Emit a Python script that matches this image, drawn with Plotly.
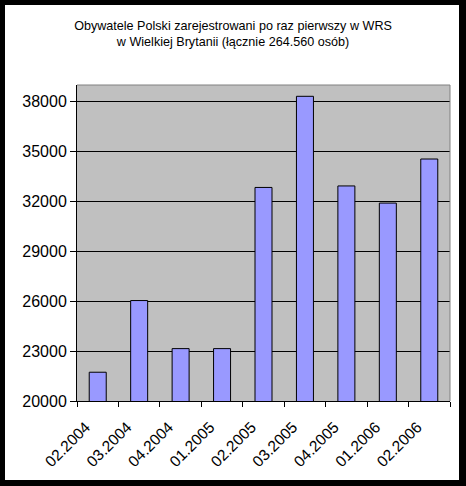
import plotly.graph_objects as go

# Polish citizens first registered in the WRS, UK
months = ['02.2004', '03.2004', '04.2004', '01.2005', '02.2005',
          '03.2005', '04.2005', '01.2006', '02.2006']
registered = [21730, 26040, 23150, 23150, 32840, 38320, 32930, 31900, 34550]
y_ticks = [20000, 23000, 26000, 29000, 32000, 35000, 38000]

FONT = 'Arial, Liberation Sans, sans-serif'

# plot area in pixels: left 77, right 450, top 85, bottom 401
W, H = 466, 486
L, R, T, B = 77, 450, 85, 401
pw, ph = R - L, B - T

def px(x):
    return (x - L) / pw

def py(y):
    return (B - y) / ph

def box(x0, x1, y0, y1, color):
    return dict(type='rect', xref='paper', yref='paper', layer='below',
                x0=px(x0), x1=px(x1), y0=py(y1), y1=py(y0),
                fillcolor=color, line=dict(width=0))

fig = go.Figure(go.Bar(
    x=months,
    y=registered,
    marker=dict(color='#9999FF', line=dict(color='black', width=1)),
))

fig.update_layout(
    width=W, height=H,
    margin=dict(l=L, r=W - R, t=T, b=H - B, pad=0),
    paper_bgcolor='black',
    plot_bgcolor='rgba(0,0,0,0)',
    bargap=0.59,
    showlegend=False,
    font=dict(family=FONT, color='black'),
    title=dict(
        text='Obywatele Polski zarejestrowani po raz pierwszy w WRS<br>'
             'w Wielkiej Brytanii (łącznie 264.560 osób)',
        font=dict(family=FONT, size=12.6, color='black'),
        x=0.5, xref='container', xanchor='center',
        y=1 - 30 / H, yref='container', yanchor='top',
    ),
    shapes=[
        # white chart area inside the black frame, grey plot area
        box(5, 459, 5, 480, 'white'),
        box(L, R, T, B, '#C0C0C0'),
        # grey top and right border of the plot area
        dict(type='line', xref='paper', yref='paper', x0=0, x1=1, y0=1, y1=1,
             line=dict(color='#808080', width=1)),
        dict(type='line', xref='paper', yref='paper', x0=1, x1=1, y0=0, y1=1,
             line=dict(color='#808080', width=1)),
    ],
)

fig.update_xaxes(
    type='category',
    tickangle=-45,
    tickson='boundaries',
    ticks='outside', ticklen=5, tickcolor='black',
    ticklabelstandoff=10, ticklabelshift=-12,
    showline=True, linecolor='black', linewidth=1,
    showgrid=False,
    tickfont=dict(family=FONT, size=15.5, color='black'),
)
fig.update_yaxes(
    range=[20000, 39000],
    tickvals=y_ticks,
    ticktext=[str(v) for v in y_ticks],
    ticks='outside', ticklen=6, tickcolor='black',
    showline=True, linecolor='black', linewidth=1,
    showgrid=True, gridcolor='black', gridwidth=1,
    zeroline=False,
    tickfont=dict(family=FONT, size=16, color='black'),
)

# drop the page's default body margin so the figure fills the window
fig.write_html('out.html',
               config={'displayModeBar': False},
               post_script="document.body.style.margin='0';"
                           "document.body.style.overflow='hidden';")
